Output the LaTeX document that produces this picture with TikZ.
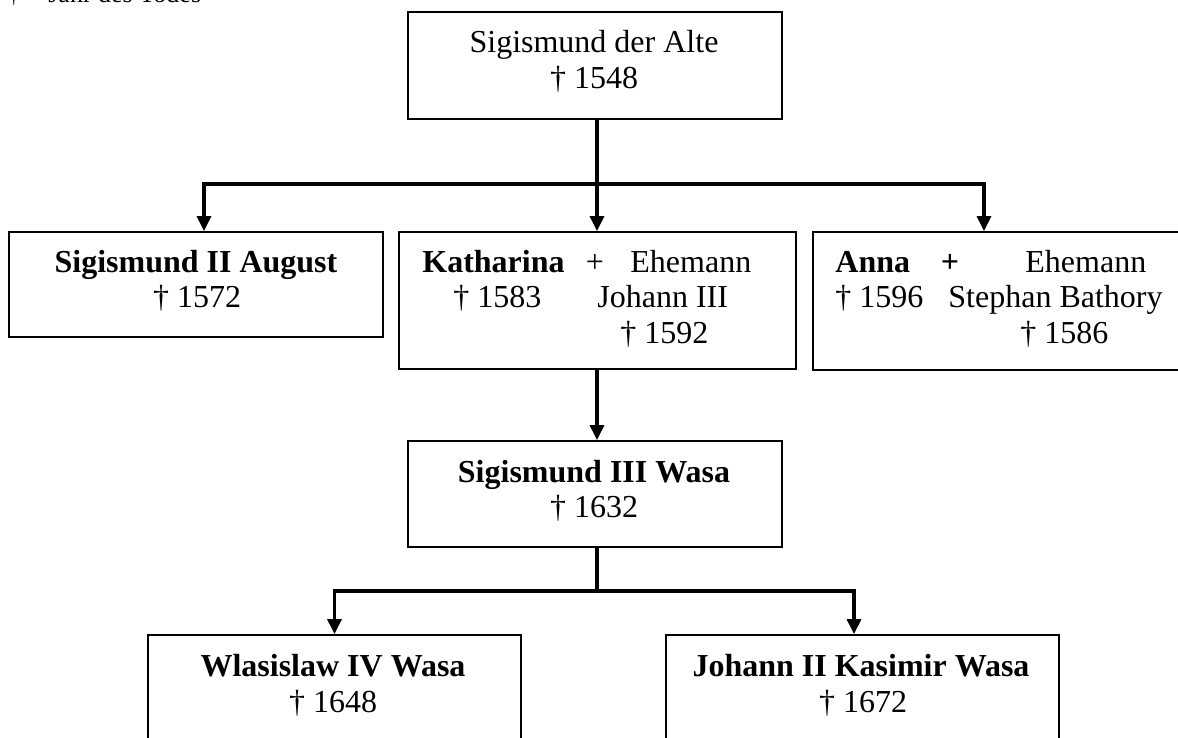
\documentclass[tikz,border=0pt]{standalone}
\usepackage{fontspec}
\setmainfont{Liberation Serif}
\usetikzlibrary{arrows.meta}
\tikzset{
  box/.style={draw, line width=0.9pt, rectangle, inner sep=0pt},
  lbl/.style={anchor=base, inner sep=0pt, font=\fontsize{16}{18}\selectfont},
  lbll/.style={anchor=base west, inner sep=0pt, font=\fontsize{16}{18}\selectfont},
  conn/.style={line width=1.6pt},
  arr/.style={line width=1.6pt, -{Triangle[width=7pt,length=7.5pt]}},
}
\begin{document}
\begin{tikzpicture}[x=0.5pt,y=-0.5pt]
\useasboundingbox (0,0) rectangle (1178,738);
% legend (cut at the top)
\node[anchor=base west, inner sep=0pt, font=\fontsize{13}{15}\selectfont] (legend) at (7,3) {†\hspace{14pt}Jahr des Todes};
% boxes
\node[box, minimum width=187pt, minimum height=53.5pt] (top) at (595,65.5) {};
\node[box, minimum width=187pt, minimum height=52.5pt] (sii) at (196,284.5) {};
\node[box, minimum width=198.5pt, minimum height=68.5pt] (kath) at (597.5,300.5) {};
\node[box, minimum width=188.5pt, minimum height=69pt] (anna) at (1001.5,301) {};
\node[box, minimum width=187pt, minimum height=53pt] (siii) at (595,494) {};
\node[box, minimum width=186.5pt, minimum height=62.5pt] (wlas) at (334.5,697.5) {};
\node[box, minimum width=196.5pt, minimum height=62.5pt] (jk) at (862.5,697.5) {};
% texts
\node[lbl] (t1) at (594,53) {Sigismund der Alte};
\node[lbl] (t2) at (594,89) {† 1548};
\node[lbl] (s1) at (196,272) {\bfseries Sigismund II August};
\node[lbl] (s2) at (197,307) {† 1572};
\node[lbll] (k1) at (422,272) {\bfseries Katharina};
\node[lbl] (k2) at (595,272) {+};
\node[lbll] (k3) at (630,272) {Ehemann};
\node[lbll] (k4) at (453,307) {† 1583};
\node[lbll] (k5) at (597,307) {Johann III};
\node[lbll] (k6) at (620,343) {† 1592};
\node[lbll] (a1) at (835,272) {\bfseries Anna};
\node[lbl] (a2) at (950,272) {\bfseries +};
\node[lbll] (a3) at (1025,272) {Ehemann};
\node[lbll] (a4) at (835,307) {† 1596};
\node[lbll] (a5) at (948,307) {Stephan Bathory};
\node[lbll] (a6) at (1020,343) {† 1586};
\node[lbl] (m1) at (594,482) {\bfseries Sigismund III Wasa};
\node[lbl] (m2) at (594,517) {† 1632};
\node[lbl] (w1) at (333,676) {\bfseries Wlasislaw IV Wasa};
\node[lbl] (w2) at (333,712) {† 1648};
\node[lbl] (j1) at (861,676) {\bfseries Johann II Kasimir Wasa};
\node[lbl] (j2) at (863,712) {† 1672};
% connectors
\coordinate (ja) at (597,184);
\coordinate (jb) at (597,591);
\draw[conn] (top.south -| ja) -- (ja);
\draw[arr] (ja) -- (kath.north -| ja);
\draw[arr] (ja) -| ([xshift=4pt]sii.north);
\draw[arr] (ja) -| ([xshift=-8.75pt]anna.north);
\draw[arr] (kath.south -| ja) -- (siii.north -| ja);
\draw[conn] (siii.south -| jb) -- (jb);
\draw[arr] (jb) -| (wlas.north);
\draw[arr] (jb) -| ([xshift=-4.25pt]jk.north);
\end{tikzpicture}
\end{document}
